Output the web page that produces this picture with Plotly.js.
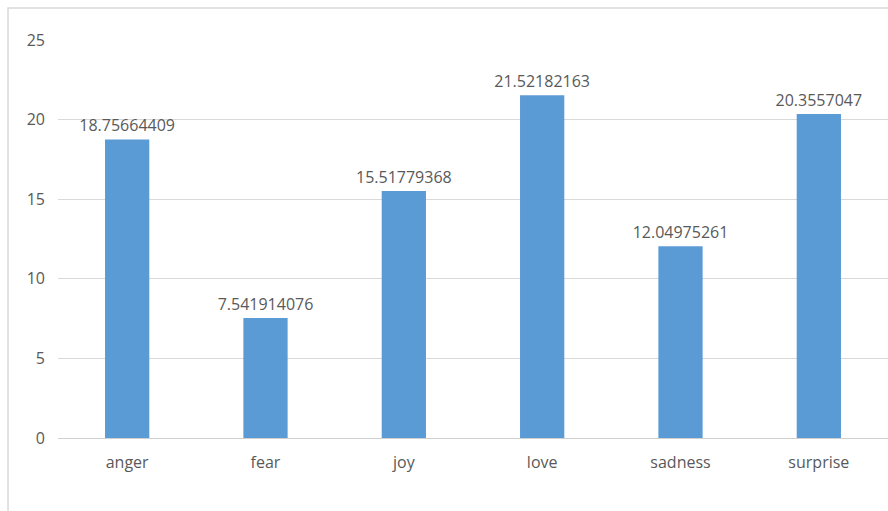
<!DOCTYPE html>
<html>
<head>
<meta charset="utf-8">
<script src="https://cdn.plot.ly/plotly-3.0.1.min.js"></script>
<style>
  html, body { margin: 0; padding: 0; background: #ffffff; }
  #chart { width: 888px; height: 511px; }
</style>
</head>
<body>
<div id="chart"></div>
<script>
// Emotion categories and their scores
var emotions = ["anger", "fear", "joy", "love", "sadness", "surprise"];
var scores = [18.75664409, 7.541914076, 15.51779368, 21.52182163, 12.04975261, 20.3557047];
var scoreLabels = ["18.75664409", "7.541914076", "15.51779368", "21.52182163", "12.04975261", "20.3557047"];
var yTicks = [0, 5, 10, 15, 20, 25];

var textColor = "#595959";
var fontFamily = "Open Sans, Liberation Sans, sans-serif";

var trace = {
  type: "bar",
  x: emotions,
  y: scores,
  text: scoreLabels,
  texttemplate: "%{text}",
  textposition: "outside",
  constraintext: "none",
  cliponaxis: false,
  textfont: { family: fontFamily, size: 16, color: textColor },
  marker: { color: "#5b9bd5" },
  hoverinfo: "x+y"
};

var layout = {
  width: 888,
  height: 511,
  margin: { l: 58, r: 0, t: 40, b: 73 },
  paper_bgcolor: "#ffffff",
  plot_bgcolor: "#ffffff",
  bargap: 0.68,
  showlegend: false,
  font: { family: fontFamily, color: textColor, size: 16 },
  xaxis: {
    showgrid: false,
    showline: true,
    linecolor: "#d0d0d0",
    linewidth: 1,
    ticks: "",
    ticklabelstandoff: 10,
    tickfont: { family: fontFamily, size: 16, color: textColor }
  },
  yaxis: {
    range: [0, 25],
    tickvals: yTicks,
    ticktext: yTicks.map(String),
    showgrid: true,
    gridcolor: "#d9d9d9",
    gridwidth: 1,
    zeroline: false,
    showline: false,
    ticks: "",
    ticklabelstandoff: 12,
    tickfont: { family: fontFamily, size: 16, color: textColor }
  },
  shapes: [
    {
      // chart area frame
      type: "rect",
      xref: "paper", yref: "paper",
      x0: -0.0602, x1: 1.05,
      y0: -0.4, y1: 1.0804,
      line: { color: "#d9d9d9", width: 1.5 },
      fillcolor: "rgba(0,0,0,0)",
      layer: "below"
    }
  ]
};

Plotly.newPlot("chart", [trace], layout, { displayModeBar: false, staticPlot: true });
</script>
</body>
</html>
